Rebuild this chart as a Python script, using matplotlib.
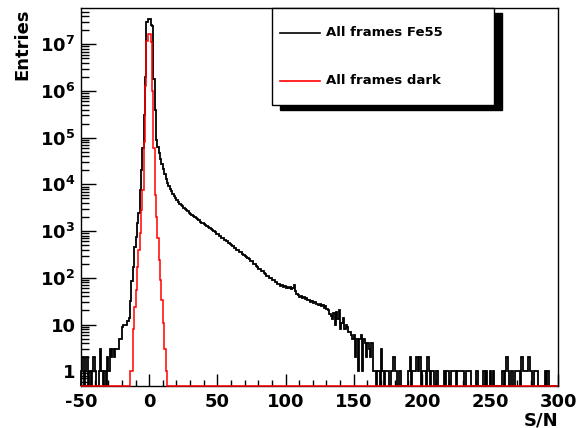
import numpy as np
import matplotlib
matplotlib.use("Agg")
import matplotlib.pyplot as plt
from matplotlib.patches import Rectangle
from matplotlib.lines import Line2D
from matplotlib.ticker import FixedLocator, MultipleLocator, LogLocator, NullFormatter

plt.rcParams['font.family'] = ['DejaVu Sans']
plt.rcParams['font.weight'] = 'bold'
plt.rcParams['axes.unicode_minus'] = False
plt.rcParams['mathtext.fontset'] = 'custom'
plt.rcParams['mathtext.rm'] = 'DejaVu Sans:bold'
plt.rcParams['mathtext.bf'] = 'DejaVu Sans:bold'
plt.rcParams['mathtext.default'] = 'bf'

# ---------------- data ----------------
x_min, x_max = -50, 300          # histogram range (bin width 1)
y_min, y_max = 0.49, 5.9e7

# Fe55 counts, bins -50 .. -24
fe55_left = [1, 2, 0, 1, 2, 0, 1, 0, 1, 2, 1, 0, 0, 1, 3, 1, 0, 1, 0, 2, 1, 3, 2, 3, 2, 3, 3]
# bins -23 .. 5
fe55_core = [3, 5, 5, 9, 10, 10, 10, 12, 14, 32, 85, 170, 450, 740, 1500, 2400, 7600,
             20000, 60000, 300000, 2000000, 30000000, 34000000, 34000000, 26000000,
             25000000, 1800000, 400000, 90000]
# bins 6 .. 148
fe55_tail = [63000, 46000, 35000, 27000, 21000, 16600, 13000, 10700, 9100, 7900,
             7100, 6300, 5600, 5000, 4600, 4200, 3800, 3550, 3400, 3200,
             3000, 2800, 2700, 2500, 2350, 2200, 2100, 2000, 1900, 1800,
             1700, 1600, 1500, 1480, 1410, 1350, 1290, 1230, 1170, 1120,
             1060, 990, 960, 880, 860, 800, 770, 715, 700, 640,
             615, 600, 545, 530, 495, 485, 440, 430, 400, 385,
             360, 350, 320, 315, 290, 285, 262, 255, 232, 224,
             200, 198, 176, 173, 157, 153, 139, 138, 125, 123,
             112, 111, 99, 100, 90, 90, 81, 80, 72, 73,
             67, 70, 64, 67, 61, 65, 60, 63, 58, 62,
             70, 52, 45, 42, 39, 40, 37, 38, 35, 37,
             34, 34, 31, 32, 29, 30, 27, 28, 26, 27,
             25, 26, 23, 25, 22, 20, 17, 15, 13, 18,
             10, 19, 13, 20, 8, 11, 14, 8, 10, 9, 7, 7, 6]
# bins 149 .. 164
fe55_drop = [5, 6, 2, 5, 1, 5, 6, 1, 5, 4, 2, 4, 3, 2, 4, 1]
# bins 165 .. 299
fe55_far = [1, 0, 1, 1, 0, 3, 1, 0, 1, 1, 1, 0, 1, 1, 2, 1, 1, 0, 1, 1,
            0, 0, 0, 0, 0,
            1, 2, 0, 1, 1, 1, 2, 1, 2, 0, 1, 1, 1, 0, 2, 1, 0, 1, 1, 0, 1, 1, 0,
            0, 0, 0,
            1, 0, 1, 1, 0, 1, 1, 1, 1, 0, 1, 1, 1, 1, 1, 0, 1, 1, 1, 1, 0,
            0, 0, 0, 1, 0, 0, 0, 0, 1, 0, 1,
            0, 0, 1, 0, 1, 0, 0, 0, 0, 0, 0,
            1, 0, 1, 2, 1, 0, 1, 1, 0, 1, 1, 1, 1, 0, 2, 1, 1, 1, 1, 2, 1, 1, 0, 1, 1, 1, 0,
            0, 0, 0, 0, 1, 0, 1, 0, 0, 0, 0, 0, 0, 0]

# dark counts, bins -14 .. 12 (zero elsewhere)
dark_start = -14
dark_vals = [1, 1, 8, 24, 55, 170, 400, 910, 2800, 7600, 80000, 1300000,
             12000000, 17000000, 17000000, 11000000, 1000000, 60000, 6000, 2000,
             710, 240, 89, 33, 11, 3, 1]

labels = ["All frames Fe55", "All frames dark"]
colors = ["#000000", "#ff0000"]
x_major = [-50, 0, 50, 100, 150, 200, 250, 300]
y_major = [1, 10, 1e2, 1e3, 1e4, 1e5, 1e6, 1e7]
y_labels = ["1", "10", r"$10^{2}$", r"$10^{3}$", r"$10^{4}$", r"$10^{5}$", r"$10^{6}$", r"$10^{7}$"]

# ---------------- build ----------------
fe55 = np.array(fe55_left + fe55_core + fe55_tail + fe55_drop + fe55_far, dtype=float)
edges = np.arange(x_min, x_min + len(fe55) + 1)
dark = np.zeros(len(fe55))
i0 = dark_start - x_min
dark[i0:i0 + len(dark_vals)] = dark_vals

def floor0(v):
    return np.where(v > 0, v, y_min)

W, H = 576, 428
fig = plt.figure(figsize=(W / 100, H / 100), dpi=100)
ax_l, ax_r, ax_t, ax_b = 81, 558.3, 8.3, 385.7
ax = fig.add_axes([ax_l / W, 1 - ax_b / H, (ax_r - ax_l) / W, (ax_b - ax_t) / H])

ax.stairs(floor0(fe55), edges, baseline=y_min, color=colors[0], lw=1.3, clip_on=False, zorder=3)
ax.stairs(floor0(dark), edges, baseline=y_min, color=colors[1], lw=1.1, clip_on=False, zorder=4)

ax.set_yscale('log')
ax.set_xlim(x_min, x_max)
ax.set_ylim(y_min, y_max)

ax.xaxis.set_major_locator(FixedLocator(x_major))
ax.xaxis.set_minor_locator(MultipleLocator(10))
ax.set_xticklabels([str(v) for v in x_major])
ax.yaxis.set_major_locator(FixedLocator(y_major))
ax.set_yticklabels(y_labels)
ax.yaxis.set_minor_locator(LogLocator(base=10, subs=np.arange(2, 10), numticks=20))
ax.yaxis.set_minor_formatter(NullFormatter())

ax.tick_params(axis='both', which='both', direction='in', top=False, right=False,
               colors='black', width=1.0)
ax.tick_params(axis='y', which='major', length=11, pad=4, labelsize=13)
ax.tick_params(axis='y', which='minor', length=6)
ax.tick_params(axis='x', which='major', length=8.5, pad=5, labelsize=13)
ax.tick_params(axis='x', which='minor', length=4.5)
for lab in ax.get_xticklabels() + ax.get_yticklabels():
    lab.set_fontweight('bold')
for s in ax.spines.values():
    s.set_linewidth(1.0)
    s.set_color('black')

ax.set_ylabel('Entries', fontsize=13, fontweight='bold', loc='top')
ax.yaxis.set_label_coords(-0.105, 1.0)
ax.set_xlabel('S/N', fontsize=13, fontweight='bold', loc='right')
ax.xaxis.set_label_coords(1.0, -0.068)

# legend box with ROOT-style shadow (figure pixel coordinates)
bx0, by0, bx1, by1 = 272, 8.3, 494, 105
sh_dx, sh_dy = 8, 5
fig.patches.append(Rectangle(((bx0 + sh_dx) / W, 1 - (by1 + sh_dy) / H), (bx1 - bx0) / W, (by1 - by0) / H,
                             transform=fig.transFigure, facecolor='black', edgecolor='black', zorder=10))
fig.patches.append(Rectangle((bx0 / W, 1 - by1 / H), (bx1 - bx0) / W, (by1 - by0) / H,
                             transform=fig.transFigure, facecolor='white', edgecolor='black', lw=1.0, zorder=11))
for lab, col, yy in zip(labels, colors, [32.7, 81]):
    fig.lines.append(Line2D([280 / W, 320 / W], [1 - yy / H, 1 - yy / H], transform=fig.transFigure,
                            color=col, lw=1.2, zorder=12))
    fig.text(326 / W, 1 - yy / H, lab, fontsize=9.5, fontweight='bold', va='center', ha='left', zorder=12)

fig.savefig('out.png', dpi=100, facecolor='white')
